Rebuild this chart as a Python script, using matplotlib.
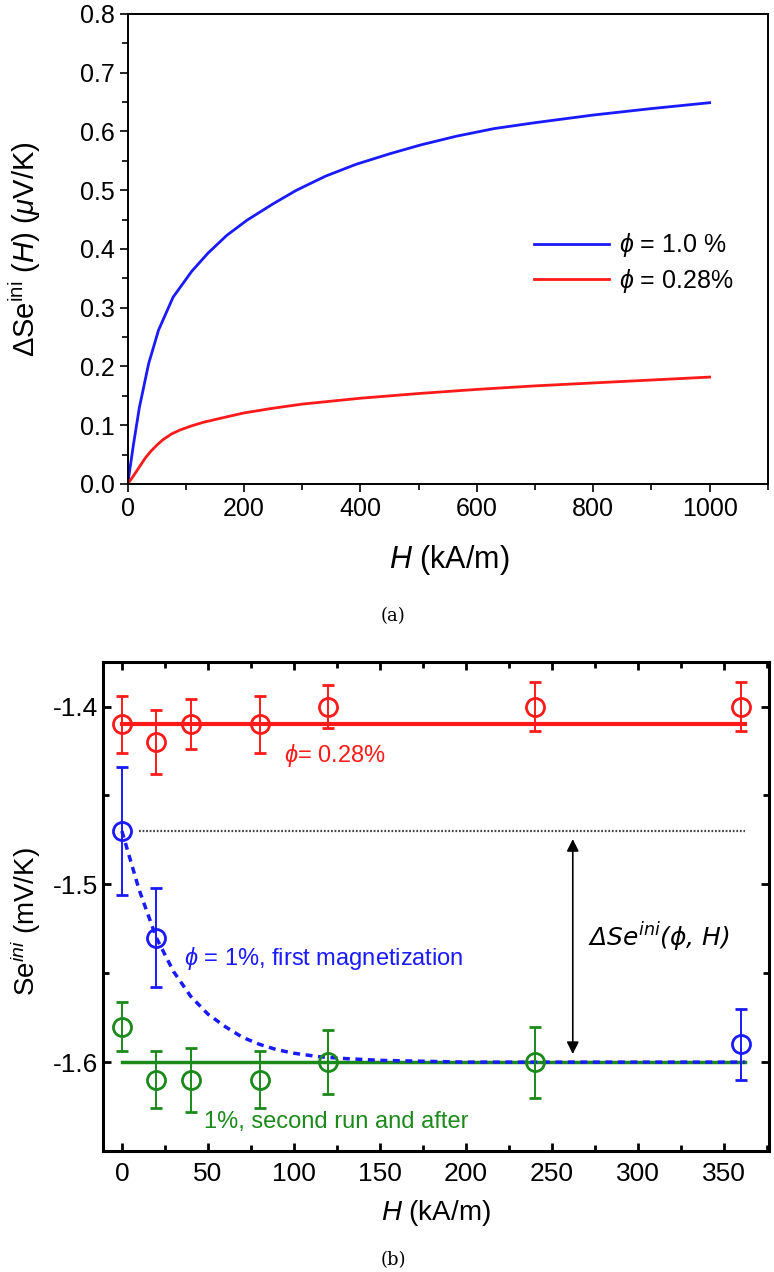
#!/usr/bin/env python3
"""Initial Seebeck coefficient vs magnetic field: (a) model curves, (b) measured Se^ini."""

import matplotlib
matplotlib.use("Agg")
import matplotlib.pyplot as plt
from matplotlib.ticker import MultipleLocator, FormatStrFormatter

# =============================================================================
# DATA
# =============================================================================
# (a) Delta Se^ini(H) model curves, uV/K
H_PHI10 = [0, 10, 20, 36, 53, 78, 110, 138, 170, 205, 250, 290, 340, 392, 450,
           503, 565, 630, 700, 800, 900, 1000]
DSE_PHI10 = [0.0, 0.068, 0.13, 0.205, 0.262, 0.318, 0.362, 0.393, 0.423, 0.449,
             0.477, 0.500, 0.524, 0.544, 0.562, 0.577, 0.592, 0.605, 0.615,
             0.628, 0.639, 0.649]

H_PHI028 = [0, 10, 20, 30, 40, 50, 60, 75, 90, 110, 130, 160, 200, 250, 300, 350,
            400, 500, 600, 700, 800, 900, 1000]
DSE_PHI028 = [0.0, 0.014, 0.029, 0.044, 0.056, 0.066, 0.075, 0.085, 0.092, 0.099,
              0.105, 0.112, 0.121, 0.129, 0.136, 0.141, 0.146, 0.154, 0.161,
              0.167, 0.172, 0.177, 0.182]

# (b) measured Se^ini, mV/K
H_RED = [0, 20, 40, 80, 120, 240, 360]
SE_RED = [-1.41, -1.42, -1.41, -1.41, -1.40, -1.40, -1.40]
ERR_RED = [0.016, 0.018, 0.014, 0.016, 0.012, 0.014, 0.014]
FIT_RED = -1.41

H_BLUE = [0, 20, 360]
SE_BLUE = [-1.47, -1.53, -1.59]
ERR_BLUE = [0.036, 0.028, 0.02]

H_GREEN = [0, 20, 40, 80, 120, 240]
SE_GREEN = [-1.58, -1.61, -1.61, -1.61, -1.60, -1.60]
ERR_GREEN = [0.014, 0.016, 0.018, 0.016, 0.018, 0.02]
FIT_GREEN = -1.60

# dashed guide for first magnetization
H_GUIDE = [0, 10, 20, 30, 40, 50, 60, 70, 80, 90, 100, 115, 130, 150, 175, 200, 250, 362]
SE_GUIDE = [-1.470, -1.503, -1.530, -1.549, -1.563, -1.573, -1.580, -1.586, -1.590,
            -1.593, -1.595, -1.597, -1.598, -1.599, -1.5995, -1.600, -1.600, -1.600]

LEVEL_INI = -1.47
ARROW_H = 262

# =============================================================================
# STYLE
# =============================================================================
RED = "#ff1a1a"
BLUE = "#1a1aff"
GREEN = "#1b8a1b"

plt.rcParams["font.family"] = ["Liberation Sans", "DejaVu Sans"]
plt.rcParams["mathtext.fontset"] = "custom"
plt.rcParams["mathtext.rm"] = "Liberation Sans"
plt.rcParams["mathtext.it"] = "Liberation Sans:italic"

fig = plt.figure(figsize=(7.74, 12.72), dpi=100)

# -----------------------------------------------------------------------------
# (a)
# -----------------------------------------------------------------------------
ax1 = fig.add_axes([0.165, 0.6195, 0.827, 0.3695])
ax1.plot(H_PHI10, DSE_PHI10, color=BLUE, lw=2.0, label=r"$\phi$ = 1.0 %")
ax1.plot(H_PHI028, DSE_PHI028, color=RED, lw=2.0, label=r"$\phi$ = 0.28%")
ax1.set_xlim(0, 1100)
ax1.set_ylim(0, 0.8)
ax1.xaxis.set_major_locator(MultipleLocator(200))
ax1.xaxis.set_minor_locator(MultipleLocator(100))
ax1.yaxis.set_major_locator(MultipleLocator(0.1))
ax1.yaxis.set_minor_locator(MultipleLocator(0.05))
ax1.yaxis.set_major_formatter(FormatStrFormatter("%.1f"))
ax1.tick_params(which="both", direction="out", top=False, right=False, labelsize=18, width=1.2)
ax1.tick_params(which="major", length=6)
ax1.tick_params(which="minor", length=4)
for sp in ax1.spines.values():
    sp.set_linewidth(1.4)
ax1.set_xlabel(r"$\mathit{H}$ (kA/m)", fontsize=22)
ax1.xaxis.set_label_coords(0.503, -0.125)
ax1.set_ylabel(r"$\Delta$Se$^{\rm ini}$ ($\mathit{H}$) ($\mu$V/K)", fontsize=21)
ax1.yaxis.set_label_coords(-0.133, 0.5)
ax1.legend(loc="center left", bbox_to_anchor=(0.6, 0.47), frameon=False, fontsize=18,
           handlelength=3.0, handletextpad=0.4, labelspacing=0.3)

fig.text(0.508, 0.516, "(a)", ha="center", va="center", fontsize=13, family="DejaVu Serif")

# -----------------------------------------------------------------------------
# (b)
# -----------------------------------------------------------------------------
ax2 = fig.add_axes([0.133, 0.0951, 0.8605, 0.3844])
ax2.plot([0, 362], [FIT_RED, FIT_RED], color=RED, lw=3.0, zorder=2)
ax2.plot([0, 362], [FIT_GREEN, FIT_GREEN], color=GREEN, lw=2.5, zorder=2)
ax2.plot(H_GUIDE, SE_GUIDE, color=BLUE, lw=2.5, ls=(0, (2.0, 1.6)), zorder=3)
ax2.plot([10, 362], [LEVEL_INI, LEVEL_INI], color="#444444", lw=1.6, ls=(0, (0.8, 0.8)), zorder=1)

mk = dict(fmt="o", ms=13, mfc="none", mew=2.0, capsize=4, elinewidth=1.4, capthick=1.4, zorder=4)
ax2.errorbar(H_RED, SE_RED, yerr=ERR_RED, color=RED, **mk)
ax2.errorbar(H_BLUE, SE_BLUE, yerr=ERR_BLUE, color=BLUE, **mk)
ax2.errorbar(H_GREEN, SE_GREEN, yerr=ERR_GREEN, color=GREEN, **mk)

ax2.annotate("", xy=(ARROW_H, LEVEL_INI - 0.003), xytext=(ARROW_H, FIT_GREEN + 0.003),
             arrowprops=dict(arrowstyle="<|-|>", color="black", lw=1.2, mutation_scale=18))

ax2.text(94, -1.4275, r"$\phi$= 0.28%", color=RED, fontsize=17, va="center")
ax2.text(36, -1.5416, r"$\phi$ = 1%, first magnetization", color=BLUE, fontsize=17, va="center")
ax2.text(48, -1.6335, "1%, second run and after", color=GREEN, fontsize=17, va="center")
ax2.text(271, -1.530, "ΔSe$^{ini}$(ϕ, H)", fontsize=18, va="center", style="italic",
         family="DejaVu Sans", math_fontfamily="dejavusans")

ax2.set_xlim(-11, 376)
ax2.set_ylim(-1.65, -1.375)
ax2.xaxis.set_major_locator(MultipleLocator(50))
ax2.xaxis.set_minor_locator(MultipleLocator(25))
ax2.yaxis.set_major_locator(MultipleLocator(0.1))
ax2.yaxis.set_minor_locator(MultipleLocator(0.05))
ax2.yaxis.set_major_formatter(FormatStrFormatter("%.1f"))
ax2.tick_params(which="both", direction="in", top=True, right=True, labelsize=19, width=2.0)
ax2.tick_params(which="major", length=6)
ax2.tick_params(which="minor", length=4)
ax2.tick_params(axis="x", pad=8)
for sp in ax2.spines.values():
    sp.set_linewidth(2.2)
ax2.set_xlabel(r"$\mathit{H}$ (kA/m)", fontsize=20)
ax2.xaxis.set_label_coords(0.50, -0.096)
ax2.set_ylabel(r"Se$^{\mathit{ini}}$ (mV/K)", fontsize=20)
ax2.yaxis.set_label_coords(-0.09, 0.47)

fig.text(0.508, 0.0094, "(b)", ha="center", va="center", fontsize=13, family="DejaVu Serif")

fig.savefig("out.png", dpi=100)
